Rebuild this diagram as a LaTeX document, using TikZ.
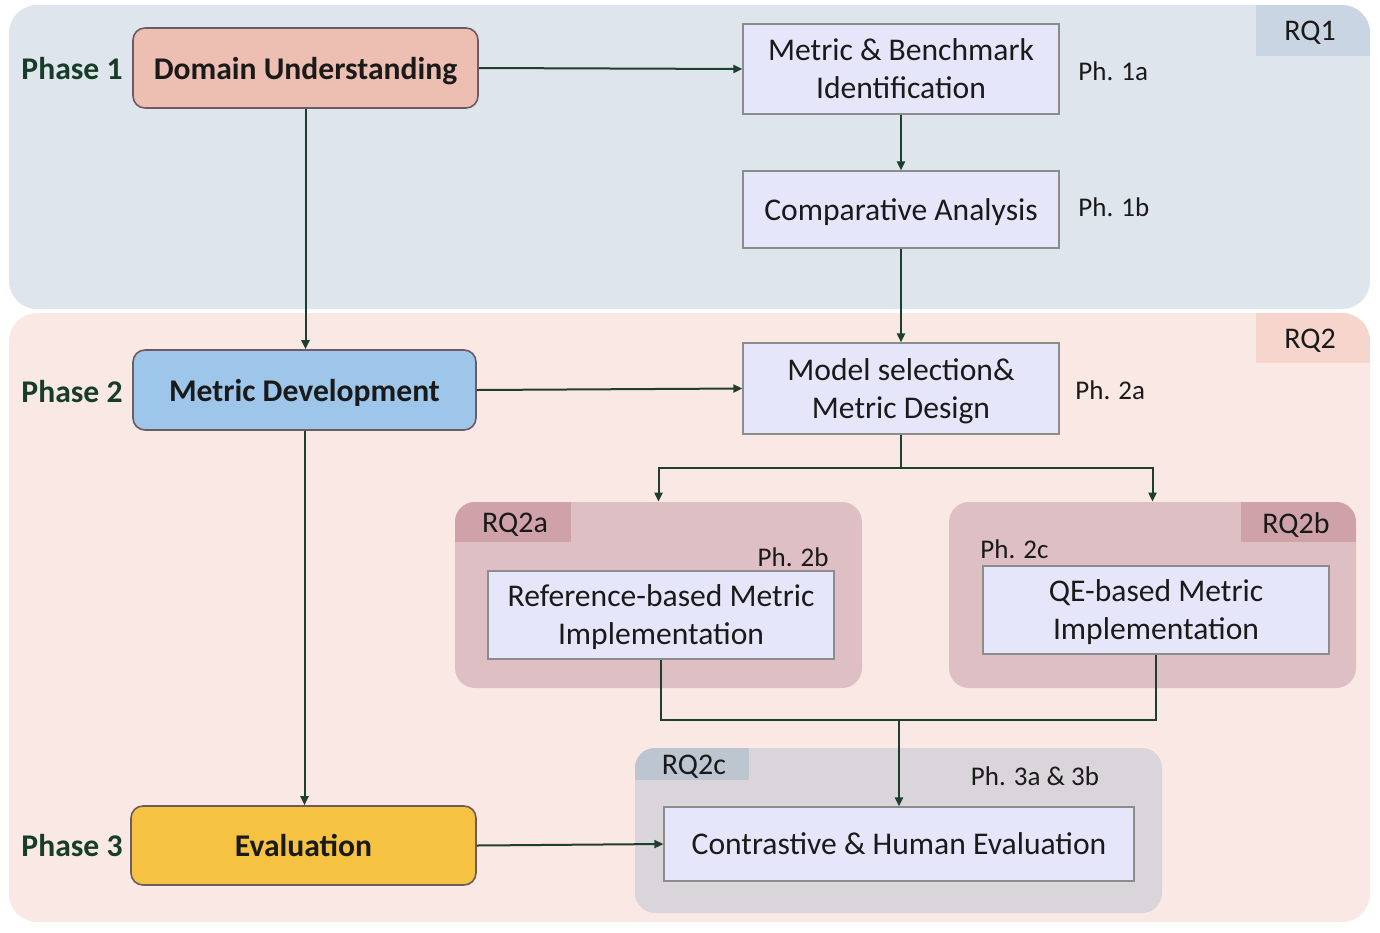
\documentclass[tikz,border=0pt]{standalone}
\usepackage{fontspec}
\setmainfont{Carlito}
\usetikzlibrary{arrows.meta}
\definecolor{panelA}{HTML}{DFE5ED}
\definecolor{tabA}{HTML}{C9D5E2}
\definecolor{panelB}{HTML}{FAE8E4}
\definecolor{tabB}{HTML}{F6D5CC}
\definecolor{grpAB}{HTML}{DEBFC3}
\definecolor{tabAB}{HTML}{CFA2AA}
\definecolor{grpC}{HTML}{DAD5DA}
\definecolor{tabC}{HTML}{BDC5D1}
\definecolor{boxfill}{HTML}{E5E6F9}
\definecolor{boxline}{HTML}{8C8C8C}
\definecolor{domfill}{HTML}{EDBFB3}
\definecolor{devfill}{HTML}{9DC6EA}
\definecolor{evafill}{HTML}{F5C242}
\definecolor{phline}{HTML}{6E5A63}
\definecolor{arrowc}{HTML}{1E3F2E}
\definecolor{phasetxt}{HTML}{163D28}
\definecolor{txt}{HTML}{1A1A1A}
\tikzset{
  phasebox/.style={draw=phline, line width=0.8pt, rounded corners=6pt, text=txt,
    font=\fontsize{15.8}{19}\selectfont\bfseries, inner sep=0pt, text depth=0pt},
  stepbox/.style={draw=boxline, line width=0.6pt, fill=boxfill, text=txt, align=center,
    font=\fontsize{15.8}{19}\selectfont, inner sep=0pt, text depth=0pt},
  grpbox/.style={rounded corners=10pt, inner sep=0pt},
  phaselbl/.style={text=phasetxt, font=\fontsize{15.8}{19}\selectfont\bfseries, inner sep=0pt},
  phlbl/.style={text=txt, font=\fontsize{13.5}{16}\selectfont, inner sep=0pt},
  rqlbl/.style={text=txt, font=\fontsize{15}{18}\selectfont, inner sep=0pt, text depth=0pt},
  conn/.style={draw=arrowc, line width=1pt, -{Triangle[length=4.5pt,width=4pt]}},
  connplain/.style={draw=arrowc, line width=1pt},
}
\begin{document}
\begin{tikzpicture}[x=0.5pt,y=-0.5pt]
\useasboundingbox (0,0) rectangle (1380,932);
% panels
\fill[panelA, rounded corners=14pt] (9,5) rectangle (1370,309);
\begin{scope}
  \clip[rounded corners=14pt] (9,5) rectangle (1370,309);
  \fill[tabA] (1256,5) rectangle (1370,56);
\end{scope}
\fill[panelB, rounded corners=14pt] (9,313) rectangle (1370,922);
\begin{scope}
  \clip[rounded corners=14pt] (9,313) rectangle (1370,922);
  \fill[tabB] (1256,313) rectangle (1370,363);
\end{scope}
\node[rqlbl] (rq1) at (1310,31) {RQ1};
\node[rqlbl] (rq2) at (1310,339) {RQ2};

% groups
\node[grpbox, fill=grpAB, minimum width=203.5pt, minimum height=93pt] (g2a) at (658.5,595) {};
\begin{scope}
  \clip[rounded corners=10pt] (455,502) rectangle (862,688);
  \fill[tabAB] (455,502) rectangle (571,542);
\end{scope}
\node[grpbox, fill=grpAB, minimum width=203.5pt, minimum height=93pt] (g2b) at (1152.5,595) {};
\begin{scope}
  \clip[rounded corners=10pt] (949,502) rectangle (1356,688);
  \fill[tabAB] (1241,502) rectangle (1356,542);
\end{scope}
\node[grpbox, fill=grpC, minimum width=263.5pt, minimum height=82.5pt] (g2c) at (898.5,830.5) {};
\begin{scope}
  \clip[rounded corners=10pt] (635,748) rectangle (1162,913);
  \fill[tabC] (635,748) rectangle (749,780);
\end{scope}
\node[rqlbl] (rq2a) at (515,523) {RQ2a};
\node[rqlbl] (rq2b) at (1296,523) {RQ2b};
\node[rqlbl] (rq2c) at (694,765) {RQ2c};

% phase labels
\node[phaselbl] (p1) at (72,69) {Phase 1};
\node[phaselbl] (p2) at (72,392) {Phase 2};
\node[phaselbl] (p3) at (72,846) {Phase 3};

% main boxes
\node[phasebox, fill=domfill, minimum width=172.5pt, minimum height=40pt] (dom) at (305.5,68) {Domain Understanding};
\node[phasebox, fill=devfill, minimum width=171.5pt, minimum height=40pt] (dev) at (304.5,390) {Metric Development};
\node[phasebox, fill=evafill, minimum width=172.5pt, minimum height=39.5pt] (eva) at (303.5,845.5) {Evaluation};

\node[stepbox, minimum width=158pt, minimum height=45pt] (mb) at (901,69) {Metric \& Benchmark\\Identification};
\node[stepbox, minimum width=158pt, minimum height=38.5pt] (ca) at (901,209.5) {Comparative Analysis};
\node[stepbox, minimum width=158pt, minimum height=45.5pt] (ms) at (901,388.5) {Model selection\&\\Metric Design};
\node[stepbox, minimum width=173pt, minimum height=44pt] (ref) at (661,615) {Reference-based Metric\\Implementation};
\node[stepbox, minimum width=173pt, minimum height=44pt] (qe) at (1156,610) {QE-based Metric\\Implementation};
\node[stepbox, minimum width=235pt, minimum height=37pt] (ch) at (899,844) {Contrastive \& Human Evaluation};

% ph labels
\node[phlbl, anchor=west] (ph1a) at (1078,71) {Ph. 1a};
\node[phlbl, anchor=west] (ph1b) at (1078,207) {Ph. 1b};
\node[phlbl, anchor=west] (ph2a) at (1075,390) {Ph. 2a};
\node[phlbl, anchor=east] (ph2b) at (829,557) {Ph. 2b};
\node[phlbl, anchor=west] (ph2c) at (980,549) {Ph. 2c};
\node[phlbl] (ph3) at (1035,776) {Ph. 3a \& 3b};

% connectors
\draw[conn] (dom.east) -- (mb.west);
\draw[conn] (dom.south) -- (dom.south |- dev.north);
\draw[conn] (mb.south) -- (ca.north);
\draw[conn] (ca.south) -- (ms.north);
\draw[conn] (dev.east) -- (ms.west);
\draw[conn] (dev.south) -- (dev.south |- eva.north);
\draw[conn] (eva.east) -- (ch.west);
\path (ms.south) ++(0,33) coordinate (split);
\draw[connplain] (ms.south) -- (split);
\draw[conn] (split) -| (g2a.north);
\draw[conn] (split) -| (g2b.north);
\path (ref.south) ++(0,60) coordinate (mergeL);
\draw[connplain] (ref.south) -- (mergeL) -| (qe.south);
\coordinate (merge) at (ch.north |- mergeL);
\draw[conn] (merge) -- (ch.north);
\end{tikzpicture}
\end{document}
